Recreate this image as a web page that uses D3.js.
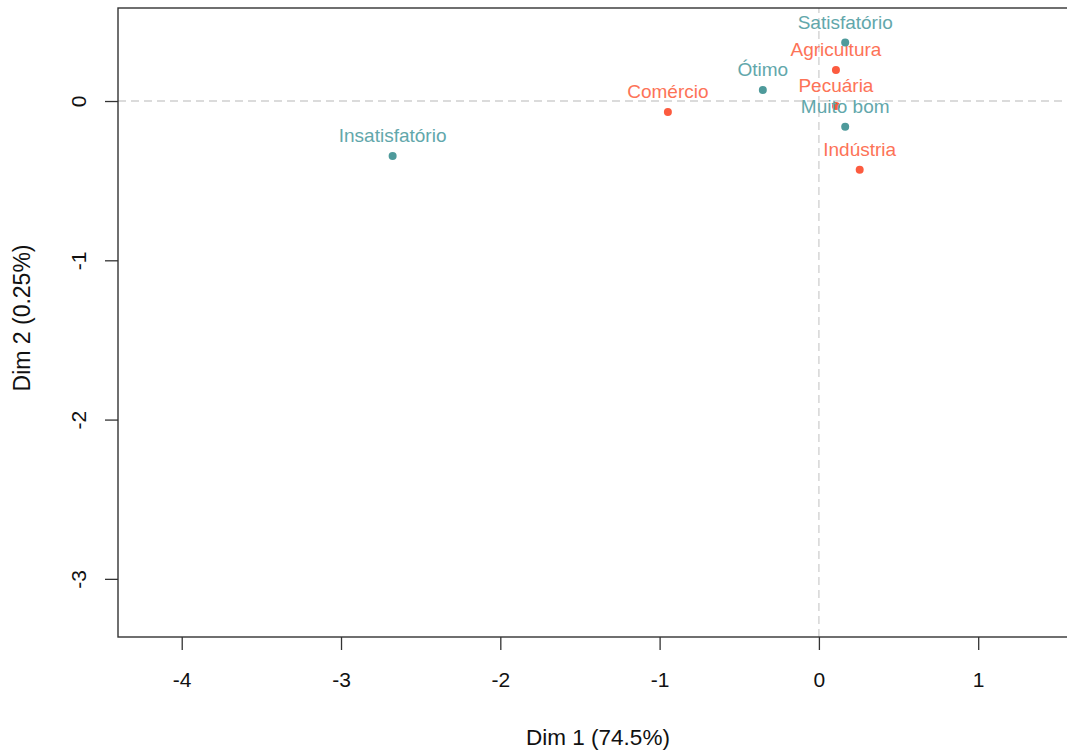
<!DOCTYPE html>
<html>
<head>
<meta charset="utf-8">
<script src="https://cdn.jsdelivr.net/npm/d3@7"></script>
<style>
  body { margin: 0; background: #fff; }
  text { font-family: "Liberation Sans", Arial, sans-serif; }
</style>
</head>
<body>
<div class="canvas"></div>
<script>
// Data
const rowNames = ["Agricultura", "Pecuária", "Indústria", "Comércio"];
const rowDim1  = [0.107, 0.107, 0.256, -0.948];
const rowDim2  = [0.195, -0.031, -0.431, -0.069];

const colNames = ["Satisfatório", "Ótimo", "Muito bom", "Insatisfatório"];
const colDim1  = [0.165, -0.352, 0.165, -2.676];
const colDim2  = [0.367, 0.069, -0.161, -0.345];

const xTicks = [-4, -3, -2, -1, 0, 1];
const yTicks = [0, -1, -2, -3];

// Dimensions
const W = 1067, H = 751;
const margin = { top: 8, right: -2, bottom: 114, left: 118 };

const x = d3.scaleLinear()
    .domain([-4.40, 1.57])
    .range([margin.left, W - margin.right]);

const y = d3.scaleLinear()
    .domain([-3.365, 0.584])
    .range([H - margin.bottom, margin.top]);

const svg = d3.select(".canvas")
    .append("svg")
        .attr("width", W)
        .attr("height", H);

// dashed zero lines
svg.append("line")
    .attr("x1", x.range()[0]).attr("x2", x.range()[1])
    .attr("y1", y(0)).attr("y2", y(0))
    .attr("stroke", "#cfcfcf").attr("stroke-width", 1.3)
    .attr("stroke-dasharray", "8,5");
svg.append("line")
    .attr("x1", x(0)).attr("x2", x(0))
    .attr("y1", y.range()[0]).attr("y2", y.range()[1])
    .attr("stroke", "#cfcfcf").attr("stroke-width", 1.3)
    .attr("stroke-dasharray", "8,5");

// frame
svg.append("rect")
    .attr("x", x.range()[0]).attr("y", y.range()[1])
    .attr("width", x.range()[1] - x.range()[0])
    .attr("height", y.range()[0] - y.range()[1])
    .attr("fill", "none").attr("stroke", "#333").attr("stroke-width", 1.4);

// x axis
const xAxis = svg.append("g")
    .attr("transform", `translate(0,${y.range()[0]})`)
    .call(d3.axisBottom(x).tickValues(xTicks).tickSize(13).tickPadding(22)
        .tickFormat(d3.format("d")));
xAxis.select(".domain").remove();
xAxis.selectAll(".tick line").attr("stroke", "#333").attr("stroke-width", 1.3);
xAxis.selectAll(".tick text")
    .attr("font-size", 21).attr("fill", "#111")
    .text(d => d < 0 ? "-" + Math.abs(d) : d);

// y axis
const yAxis = svg.append("g")
    .attr("transform", `translate(${x.range()[0]},0)`)
    .call(d3.axisLeft(y).tickValues(yTicks).tickSize(13).tickPadding(0)
        .tickFormat(d3.format("d")));
yAxis.select(".domain").remove();
yAxis.selectAll(".tick line").attr("stroke", "#333").attr("stroke-width", 1.3);
yAxis.selectAll(".tick text")
    .attr("font-size", 21).attr("fill", "#111")
    .attr("x", 0).attr("dy", 0)
    .attr("text-anchor", "middle")
    .attr("transform", "translate(-40,0) rotate(-90)")
    .attr("dominant-baseline", "central")
    .text(d => d < 0 ? "-" + Math.abs(d) : d);

// axis titles
svg.append("text")
    .attr("x", 598).attr("y", 745)
    .attr("text-anchor", "middle")
    .attr("font-size", 22.5).attr("fill", "#111")
    .text("Dim 1 (74.5%)");
svg.append("text")
    .attr("transform", `translate(30,${318}) rotate(-90)`)
    .attr("text-anchor", "middle")
    .attr("font-size", 23).attr("fill", "#111")
    .text("Dim 2 (0.25%)");

// points
function drawSet(names, d1, d2, dotCol, labCol) {
    const data = names.map((n, i) => ({ name: n, x: d1[i], y: d2[i] }));
    svg.append("g").selectAll("circle")
        .data(data).join("circle")
        .attr("cx", d => x(d.x)).attr("cy", d => y(d.y))
        .attr("r", 4).attr("fill", dotCol);
    svg.append("g").selectAll("text")
        .data(data).join("text")
        .attr("x", d => x(d.x)).attr("y", d => y(d.y) - 14)
        .attr("text-anchor", "middle")
        .attr("font-size", 19).attr("fill", labCol)
        .text(d => d.name);
}

drawSet(rowNames, rowDim1, rowDim2, "#fc5b3f", "#fd7357");
drawSet(colNames, colDim1, colDim2, "#4e9a9b", "#62a7ab");
</script>
</body>
</html>
